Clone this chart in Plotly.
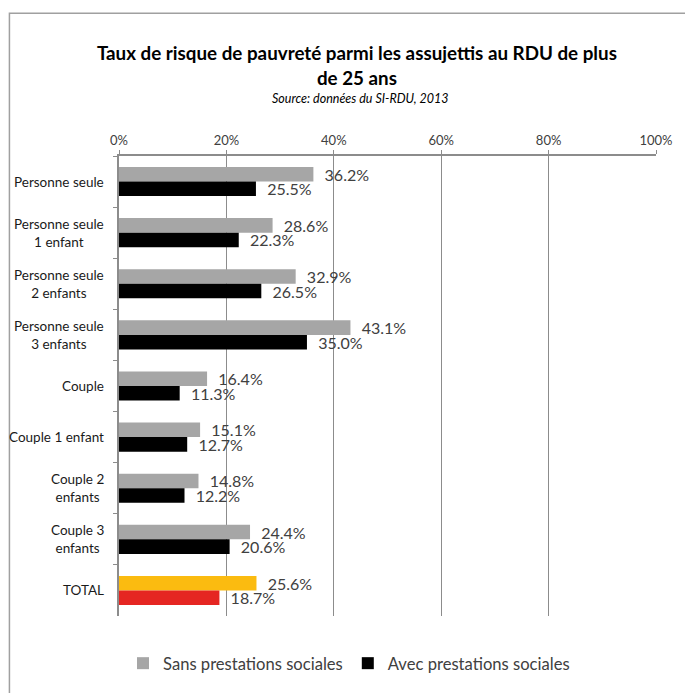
import plotly.graph_objects as go

categories = [
    "Personne seule",
    "Personne seule<br>1 enfant",
    "Personne seule<br>2 enfants",
    "Personne seule<br>3 enfants",
    "Couple",
    "Couple 1 enfant",
    "Couple 2<br>enfants",
    "Couple 3<br>enfants",
    "TOTAL",
]
sans_prestations = [36.2, 28.6, 32.9, 43.1, 16.4, 15.1, 14.8, 24.4, 25.6]
avec_prestations = [25.5, 22.3, 26.5, 35.0, 11.3, 12.7, 12.2, 20.6, 18.7]
x_ticks = [0, 20, 40, 60, 80, 100]
x_tick_labels = ["0%", "20%", "40%", "60%", "80%", "100%"]

title_text = "Taux de risque de pauvreté parmi les assujettis au RDU de plus<br>de 25 ans"
source_text = "Source: données du SI-RDU, 2013"

FONT = "Lato, 'Open Sans', sans-serif"
TEXT_COLOR = "#404040"
AXIS_COLOR = "#8c8c8c"

GREY, BLACK = "#a6a6a6", "#000000"
YELLOW, RED = "#fbbb10", "#e52622"

# The TOTAL row is highlighted with its own colours
sans_colors = [GREY] * (len(categories) - 1) + [YELLOW]
avec_colors = [BLACK] * (len(categories) - 1) + [RED]

# Value labels sit a little away from the bar ends
LABEL_PAD = "\u00a0\u00a0"

fig = go.Figure()
fig.add_trace(go.Bar(
    y=categories, x=sans_prestations, orientation="h",
    name="Sans prestations sociales",
    marker=dict(color=sans_colors, line=dict(width=0)),
    text=[f"{LABEL_PAD}{v:.1f}%" for v in sans_prestations],
    textposition="outside", constraintext="none", cliponaxis=False,
    textfont=dict(family=FONT, size=16, color=TEXT_COLOR),
))
fig.add_trace(go.Bar(
    y=categories, x=avec_prestations, orientation="h",
    name="Avec prestations sociales",
    marker=dict(color=avec_colors, line=dict(width=0)),
    text=[f"{LABEL_PAD}{v:.1f}%" for v in avec_prestations],
    textposition="outside", constraintext="none", cliponaxis=False,
    textfont=dict(family=FONT, size=16, color=TEXT_COLOR),
))

# Category labels, centred line by line and right-aligned against the axis
annotations = [
    dict(x=0, xref="paper", y=c, yref="y", text=c, showarrow=False,
         xanchor="right", align="center", xshift=-13,
         font=dict(family=FONT, size=13.5, color="#1a1a1a"))
    for c in categories
]
annotations.append(dict(
    x=(364 - 119) / 544, xref="paper", y=(620 - 98) / 464, yref="paper",
    yanchor="middle", text=f"<i>{source_text}</i>",
    showarrow=False, font=dict(family=FONT, size=12.5, color="#000000"),
))

fig.update_layout(
    width=685, height=693,
    margin=dict(l=119, r=22, t=156, b=73),
    paper_bgcolor="white", plot_bgcolor="white",
    barmode="group", bargap=0.43, bargroupgap=0,
    font=dict(family=FONT, color=TEXT_COLOR),
    title=dict(
        text=f"<b>{title_text}</b>", xref="paper", x=(360 - 119) / 544,
        xanchor="center", y=0.913, yanchor="middle",
        font=dict(family=FONT, size=18.8, color="#000000"),
    ),
    xaxis=dict(
        side="top", range=[0, 100], tickvals=x_ticks, ticktext=x_tick_labels,
        showgrid=True, gridcolor=AXIS_COLOR, gridwidth=1,
        showline=True, linecolor=AXIS_COLOR, linewidth=1.5,
        ticks="outside", ticklen=4, tickcolor=AXIS_COLOR,
        tickfont=dict(family=FONT, size=13, color=TEXT_COLOR),
        zeroline=False, fixedrange=True,
    ),
    yaxis=dict(
        autorange="reversed", showticklabels=False,
        showline=True, linecolor=AXIS_COLOR, linewidth=1.5,
        ticks="outside", ticklen=4, tickcolor=AXIS_COLOR, tickson="boundaries",
        showgrid=False, fixedrange=True,
    ),
    legend=dict(
        orientation="h", x=(352 - 119) / 544, xanchor="center",
        y=-0.103, yanchor="middle",
        font=dict(family=FONT, size=16.6, color=TEXT_COLOR),
        itemwidth=30, tracegroupgap=0,
    ),
    annotations=annotations,
    shapes=[dict(
        type="rect", xref="paper", yref="paper",
        x0=(8 - 119) / 544, x1=2, y0=-1, y1=(620 - 12) / 464,
        line=dict(color="#a0a0a0", width=1.5), layer="below",
    )],
)

fig.write_html("out.html")
